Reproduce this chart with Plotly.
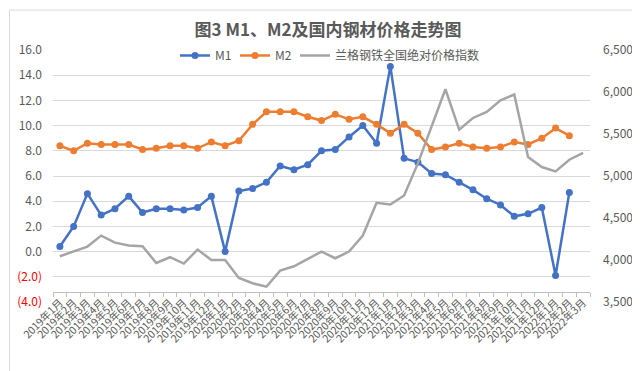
import plotly.graph_objects as go

# ---- data ----
months = [f"{y}年{m}月" for y in (2019, 2020, 2021) for m in range(1, 13)] + ["2022年1月", "2022年2月", "2022年3月"]

m1 = [0.4, 2.0, 4.6, 2.9, 3.4, 4.4, 3.1, 3.4, 3.4, 3.3, 3.5, 4.4,
      0.0, 4.8, 5.0, 5.5, 6.8, 6.5, 6.9, 8.0, 8.1, 9.1, 10.0, 8.6,
      14.7, 7.4, 7.1, 6.2, 6.1, 5.5, 4.9, 4.2, 3.7, 2.8, 3.0, 3.5,
      -1.9, 4.7]

m2 = [8.4, 8.0, 8.6, 8.5, 8.5, 8.5, 8.1, 8.2, 8.4, 8.4, 8.2, 8.7,
      8.4, 8.8, 10.1, 11.1, 11.1, 11.1, 10.7, 10.4, 10.9, 10.5, 10.7, 10.1,
      9.4, 10.1, 9.4, 8.1, 8.3, 8.6, 8.3, 8.2, 8.3, 8.7, 8.5, 9.0,
      9.8, 9.2]

steel = [4045, 4100, 4160, 4290, 4207, 4172, 4164, 3965, 4033, 3957, 4124, 4001,
         4001, 3786, 3723, 3682, 3873, 3925, 4013, 4100, 4021, 4100, 4291, 4681,
         4661, 4768, 5150, 5580, 6033, 5552, 5691, 5763, 5901, 5969, 5226, 5107,
         5054, 5194, 5274]

left_ticks = [-4, -2, 0, 2, 4, 6, 8, 10, 12, 14, 16]
right_ticks = [3500, 4000, 4500, 5000, 5500, 6000, 6500]

# ---- figure ----
W, H = 640, 371
L, R, T, B = 45, 58, 41.5, 77
pw, ph = W - L - R, H - T - B

def px_x(x):
    return (x - L) / pw

def px_y(y):
    return (H - B - y) / ph

FONT = "Noto Sans CJK SC, Noto Sans, sans-serif"
GREY_TXT = "#595959"

def fmt_left(v):
    if v < 0:
        return f'<span style="color:#ff0000">({abs(v):.1f})</span>'
    return f"{v:.1f}"

fig = go.Figure()
fig.add_trace(go.Scatter(x=months[:len(m1)], y=m1, name="M1", mode="lines+markers",
                         line=dict(color="#4472C4", width=2.5),
                         marker=dict(size=7, color="#4472C4"), legend="legend"))
fig.add_trace(go.Scatter(x=months[:len(m2)], y=m2, name="M2", mode="lines+markers",
                         line=dict(color="#ED7D31", width=2.5),
                         marker=dict(size=7, color="#ED7D31"), legend="legend2"))
fig.add_trace(go.Scatter(x=months, y=steel, name="兰格钢铁全国绝对价格指数", mode="lines",
                         line=dict(color="#A5A5A5", width=2.5), yaxis="y2", legend="legend3"))

def leg(xpx):
    return dict(orientation="h", x=px_x(xpx), xanchor="left", y=px_y(47), yanchor="middle",
                bgcolor="rgba(0,0,0,0)", font=dict(size=12, color=GREY_TXT), itemwidth=30)

fig.update_layout(
    width=W, height=H,
    margin=dict(l=L, r=R, t=T, b=B, autoexpand=False),
    paper_bgcolor="white", plot_bgcolor="white",
    font=dict(family=FONT, color=GREY_TXT, size=12),
    title=dict(text="图3 M1、M2及国内钢材价格走势图", x=0.5, xref="container", xanchor="center",
               y=1 - 22 / H, yref="container", yanchor="middle",
               font=dict(size=17, color=GREY_TXT, family=FONT, weight="bold")),
    showlegend=True,
    legend=leg(167), legend2=leg(227), legend3=leg(287),
    xaxis=dict(type="category", categoryorder="array", categoryarray=months,
               range=[-0.5, len(months) - 0.5],
               anchor="free", position=px_y(283.5),
               showline=True, linecolor="#bfbfbf", linewidth=1,
               ticks="outside", tickson="boundaries", ticklen=4, tickcolor="#bfbfbf",
               tickangle=-45, tickfont=dict(size=10.5, color=GREY_TXT),
               showgrid=False, zeroline=False, automargin=False),
    yaxis=dict(range=[-4, 16], tickmode="array", tickvals=left_ticks,
               ticktext=[fmt_left(v) for v in left_ticks],
               showgrid=True, gridcolor="#d9d9d9", gridwidth=1, zeroline=False,
               showline=False, ticks="", ticklabelstandoff=10,
               tickfont=dict(size=12, color=GREY_TXT), automargin=False),
    yaxis2=dict(range=[3500, 6500], tickmode="array", tickvals=right_ticks,
                tickformat=",", overlaying="y", side="right",
                showgrid=False, zeroline=False, showline=False, ticks="",
                ticklabelstandoff=12, tickfont=dict(size=12, color=GREY_TXT), automargin=False),
    shapes=[dict(type="rect", xref="paper", yref="paper",
                 x0=px_x(1.5), x1=px_x(638.5), y0=px_y(369.5), y1=px_y(1.5),
                 line=dict(color="#d9d9d9", width=1), layer="below")],
)

fig.write_html("out.html")
